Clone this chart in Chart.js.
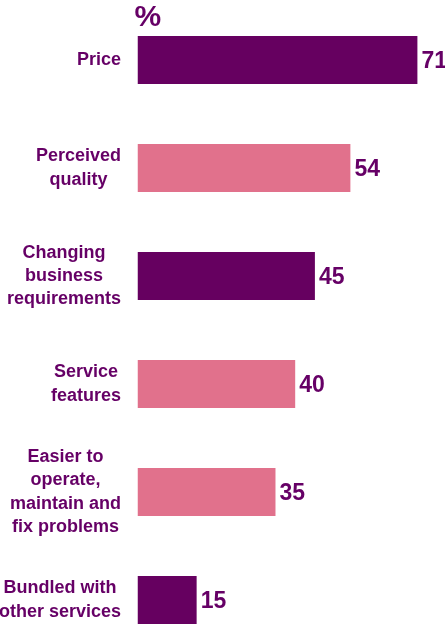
<!DOCTYPE html>
<html lang="en">
<head>
    <meta charset="UTF-8">
    <title>Purchase drivers</title>
    <style>
        body { margin: 0; background: #fff; overflow: hidden; }
        .wrap { width: 445px; height: 626px; overflow: hidden; position: relative; }
    </style>
    <script src="https://cdn.jsdelivr.net/npm/chart.js"></script>
</head>
<body>
    <div class="wrap">
        <canvas id="chart" width="445" height="654"></canvas>
    </div>
    <script>
        const categories = [
            ['Price'],
            ['Perceived', 'quality'],
            ['Changing', 'business', 'requirements'],
            ['Service', 'features'],
            ['Easier to', 'operate,', 'maintain and', 'fix problems'],
            ['Bundled with', 'other services']
        ];
        const values = [71, 54, 45, 40, 35, 15];
        const barColors = ['#660060', '#e1718c', '#660060', '#e1718c', '#e1718c', '#660060'];
        const unitLabel = '%';

        const textColor = '#660066';
        const family = '"Liberation Sans", Arial, sans-serif';

        // category labels: each block centred on itself, right edge near the bars
        const labelPlugin = {
            id: 'labels',
            afterDraw(chart) {
                const ctx = chart.ctx;
                const y = chart.scales.y;
                const right = 121;
                const lh = 23.3;
                ctx.save();
                ctx.fillStyle = textColor;
                ctx.font = 'bold 18px ' + family;
                ctx.textAlign = 'center';
                ctx.textBaseline = 'middle';
                categories.forEach((lines, i) => {
                    const w = Math.max(...lines.map(l => ctx.measureText(l).width));
                    const cx = right - w / 2;
                    const cy = y.getPixelForValue(i);
                    lines.forEach((l, k) => {
                        ctx.fillText(l, cx, cy + (k - (lines.length - 1) / 2) * lh);
                    });
                });
                // value labels at the bar ends
                const meta = chart.getDatasetMeta(0);
                ctx.font = 'bold 23px ' + family;
                ctx.textAlign = 'left';
                ctx.textBaseline = 'alphabetic';
                meta.data.forEach((bar, i) => {
                    ctx.fillText(values[i], bar.x + 4, bar.y + 8);
                });
                // unit above the first bar
                ctx.font = 'bold 30px ' + family;
                ctx.fillText(unitLabel, chart.chartArea.left - 3, 26);
                ctx.restore();
            }
        };

        new Chart(document.getElementById('chart'), {
            type: 'bar',
            data: {
                labels: categories.map(c => c.join(' ')),
                datasets: [{ data: values, backgroundColor: barColors, barPercentage: 48 / 108, categoryPercentage: 1 }]
            },
            options: {
                indexAxis: 'y',
                responsive: false,
                animation: false,
                layout: { padding: { top: 6, left: 137.5, right: 0, bottom: 0 } },
                plugins: { legend: { display: false }, tooltip: { enabled: false } },
                scales: {
                    x: { display: false, min: 0, max: 78 },
                    y: { display: false }
                }
            },
            plugins: [labelPlugin]
        });
    </script>
</body>
</html>
